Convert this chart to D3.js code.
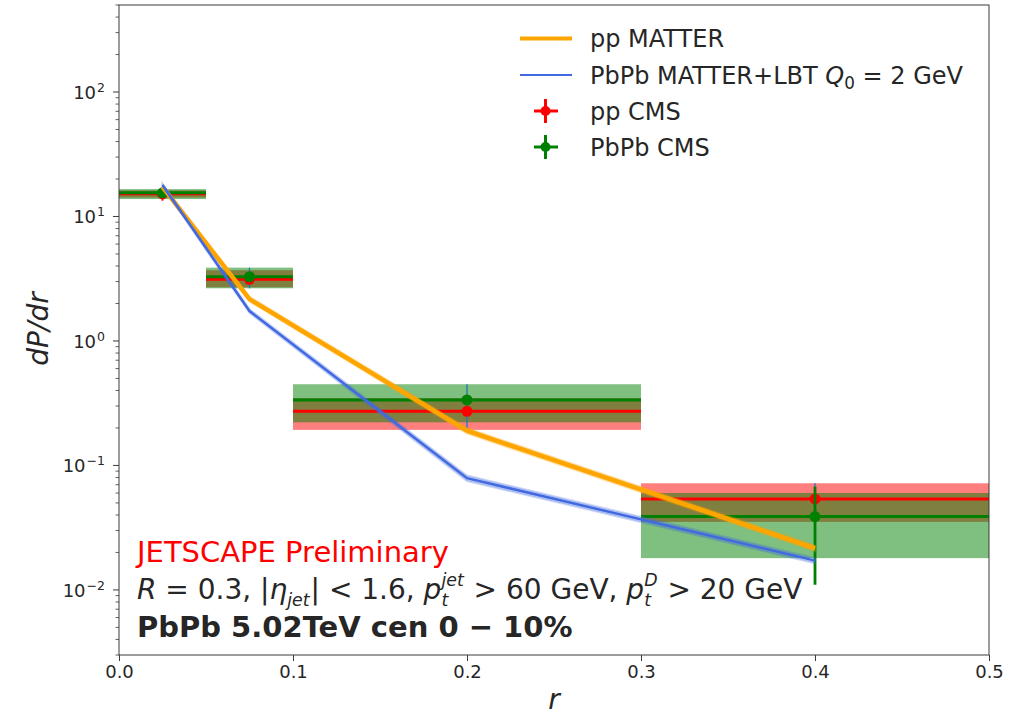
<!DOCTYPE html>
<html>
<head>
<meta charset="utf-8">
<script src="https://cdn.jsdelivr.net/npm/d3@7"></script>
<style>
  html, body { margin: 0; padding: 0; background: #fff; }
  svg { display: block; font-family: "DejaVu Sans", sans-serif; }
</style>
</head>
<body>
<svg id="chart" width="1027" height="716"></svg>
<script>
// Bin edges and centres in r
const rEdges = [0, 0.05, 0.1, 0.3, 0.5];
const rCenters = [0.025, 0.075, 0.2, 0.4];

// pp CMS: central values, statistical errors, systematic boxes
const ppCMS = [15.2, 3.13, 0.272, 0.0538];
const ppCMSStatLo = [13.4, 2.95, 0.255, 0.051];
const ppCMSStatHi = [16.4, 3.32, 0.29, 0.0565];
const ppCMSSysLo = [14.2, 2.7, 0.193, 0.0352];
const ppCMSSysHi = [16.2, 3.7, 0.348, 0.0719];

// PbPb CMS
const pbpbCMS = [15.5, 3.28, 0.336, 0.0388];
const pbpbCMSStatLo = [14.8, 3.1, 0.315, 0.011];
const pbpbCMSStatHi = [16.2, 3.45, 0.36, 0.0676];
const pbpbCMSSysLo = [13.8, 2.65, 0.222, 0.018];
const pbpbCMSSysHi = [16.6, 3.88, 0.449, 0.0601];

// JETSCAPE calculations with uncertainty bands
const ppMatter = [17.3, 2.17, 0.19, 0.0216];
const ppMatterLo = [16.7, 2.08, 0.180, 0.0205];
const ppMatterHi = [17.9, 2.27, 0.200, 0.0228];
const pbpbLbt = [17.9, 1.74, 0.079, 0.0172];
const pbpbLbtLo = [17.4, 1.68, 0.075, 0.0164];
const pbpbLbtHi = [18.4, 1.80, 0.083, 0.0180];

// Axis ticks
const xTicks = [0.0, 0.1, 0.2, 0.3, 0.4, 0.5];
const yTickExponents = [-2, -1, 0, 1, 2];

const svg = d3.select("#chart");
const W = 1027, H = 716;
const margin = { left: 119, right: 38, top: 5, bottom: 61 };
const plotW = W - margin.left - margin.right;
const plotH = H - margin.top - margin.bottom;

const x = d3.scaleLinear().domain([0, 0.5]).range([margin.left, margin.left + plotW]);
const y = d3.scaleLog().domain([0.003, 500]).range([margin.top + plotH, margin.top]);

const RED = "#ff0000", GREEN = "#008000", ORANGE = "#ffa500", BLUE = "#4169e1", EBAR = "#1f77b4";
const TXT = "#262626";

const g = svg.append("g");

// Systematic boxes
function boxes(lo, hi, color) {
  g.append("g").selectAll("rect").data(rCenters).join("rect")
    .attr("x", (d, i) => x(rEdges[i]))
    .attr("width", (d, i) => x(rEdges[i + 1]) - x(rEdges[i]))
    .attr("y", (d, i) => y(hi[i]))
    .attr("height", (d, i) => y(lo[i]) - y(hi[i]))
    .attr("fill", color).attr("fill-opacity", 0.5);
}
boxes(ppCMSSysLo, ppCMSSysHi, RED);
boxes(pbpbCMSSysLo, pbpbCMSSysHi, GREEN);

// Thin bar spanning both systematic boxes at each bin centre
g.append("g").selectAll("line").data(rCenters).join("line")
  .attr("x1", d => x(d)).attr("x2", d => x(d))
  .attr("y1", (d, i) => y(Math.max(ppCMSSysHi[i], pbpbCMSSysHi[i])))
  .attr("y2", (d, i) => y(Math.min(ppCMSSysLo[i], pbpbCMSSysLo[i])))
  .attr("stroke", EBAR).attr("stroke-width", 1.3);

// Data points with bin-width bars and statistical error bars
function points(vals, lo, hi, color, vWidth) {
  const pg = g.append("g");
  pg.selectAll("line.h").data(vals).join("line").attr("class", "h")
    .attr("x1", (d, i) => x(rEdges[i])).attr("x2", (d, i) => x(rEdges[i + 1]))
    .attr("y1", d => y(d)).attr("y2", d => y(d))
    .attr("stroke", color).attr("stroke-width", 3);
  pg.selectAll("line.v").data(vals).join("line").attr("class", "v")
    .attr("x1", (d, i) => x(rCenters[i])).attr("x2", (d, i) => x(rCenters[i]))
    .attr("y1", (d, i) => y(lo[i])).attr("y2", (d, i) => y(hi[i]))
    .attr("stroke", color).attr("stroke-width", vWidth);
  pg.selectAll("circle").data(vals).join("circle")
    .attr("cx", (d, i) => x(rCenters[i])).attr("cy", d => y(d)).attr("r", 5.5)
    .attr("fill", color);
}
points(ppCMS, ppCMSStatLo, ppCMSStatHi, RED, 2);
points(pbpbCMS, pbpbCMSStatLo, pbpbCMSStatHi, GREEN, 2.8);

// Calculation curves with bands
function curve(vals, lo, hi, color, width) {
  const area = d3.area().x((d, i) => x(rCenters[i])).y0((d, i) => y(lo[i])).y1((d, i) => y(hi[i]));
  g.append("path").datum(vals).attr("d", area).attr("fill", color).attr("fill-opacity", 0.3)
    .attr("stroke", color).attr("stroke-opacity", 0.25).attr("stroke-width", 2);
  const line = d3.line().x((d, i) => x(rCenters[i])).y(d => y(d));
  g.append("path").datum(vals).attr("d", line).attr("fill", "none")
    .attr("stroke", color).attr("stroke-width", width);
}
curve(ppMatter, ppMatterLo, ppMatterHi, ORANGE, 4.5);
curve(pbpbLbt, pbpbLbtLo, pbpbLbtHi, BLUE, 2.5);

// Frame
const AX = "#3a3a3a";
svg.append("rect").attr("x", margin.left).attr("y", margin.top)
  .attr("width", plotW).attr("height", plotH)
  .attr("fill", "none").attr("stroke", AX).attr("stroke-width", 1);

// x axis
const TS = 18;
const xAxis = svg.append("g").attr("transform", `translate(0,${margin.top + plotH})`)
  .call(d3.axisBottom(x).tickValues(xTicks).tickFormat(d3.format(".1f")).tickSize(6).tickPadding(4));
xAxis.select(".domain").remove();
xAxis.selectAll("line").attr("stroke", AX);
xAxis.selectAll("text").attr("font-size", TS).attr("fill", TXT)
  .attr("font-family", "DejaVu Sans");

// y axis: minor ticks
const minor = [];
for (let e = -3; e <= 2; e++) for (let k = 2; k <= 9; k++) {
  const v = k * Math.pow(10, e);
  if (v >= 0.003 && v <= 500) minor.push(v);
}
const yAxis = svg.append("g").attr("transform", `translate(${margin.left},0)`);
yAxis.selectAll("line.minor").data(minor).join("line").attr("class", "minor")
  .attr("x1", 0).attr("x2", -3.5).attr("y1", d => y(d)).attr("y2", d => y(d))
  .attr("stroke", AX).attr("stroke-width", 0.8);
yAxis.selectAll("line.major").data(yTickExponents).join("line").attr("class", "major")
  .attr("x1", 0).attr("x2", -6).attr("y1", d => y(Math.pow(10, d))).attr("y2", d => y(Math.pow(10, d)))
  .attr("stroke", AX).attr("stroke-width", 1);
const yl = yAxis.selectAll("text.tl").data(yTickExponents).join("text").attr("class", "tl")
  .attr("x", -14).attr("y", d => y(Math.pow(10, d)) + 7)
  .attr("text-anchor", "end").attr("font-size", TS).attr("fill", TXT);
yl.append("tspan").text("10");
yl.append("tspan").attr("dy", -7).attr("dx", 1).attr("font-size", 12.5)
  .text(d => (d < 0 ? "\u2212" : "") + Math.abs(d));

// Axis labels
svg.append("text").attr("x", x(0.25)).attr("y", 709).attr("text-anchor", "middle")
  .attr("font-size", 28).attr("font-style", "italic").attr("fill", TXT).text("r");
svg.append("text").attr("transform", `translate(48,329) rotate(-90)`)
  .attr("text-anchor", "middle").attr("font-size", 28).attr("font-style", "italic")
  .attr("fill", TXT).text("dP/dr");

// Legend
const LS = 24;
const legend = svg.append("g");
const legendRows = [
  { type: "line", color: ORANGE, width: 4, label: [{ t: "pp MATTER" }] },
  { type: "line", color: BLUE, width: 2.2, label: [{ t: "PbPb MATTER+LBT " }, { t: "Q", it: true }, { t: "0", sub: true }, { t: " = 2 GeV", up: true }] },
  { type: "pt", color: RED, label: [{ t: "pp CMS" }] },
  { type: "pt", color: GREEN, label: [{ t: "PbPb CMS" }] }
];
const rowY = [38.5, 75, 111, 147];
legendRows.forEach((row, i) => {
  const cy = rowY[i];
  if (row.type === "line") {
    legend.append("line").attr("x1", 520).attr("x2", 572).attr("y1", cy).attr("y2", cy)
      .attr("stroke", row.color).attr("stroke-width", row.width);
  } else {
    legend.append("line").attr("x1", 534).attr("x2", 558).attr("y1", cy).attr("y2", cy)
      .attr("stroke", row.color).attr("stroke-width", 3);
    legend.append("line").attr("x1", 545.5).attr("x2", 545.5).attr("y1", cy - 12).attr("y2", cy + 12)
      .attr("stroke", row.color).attr("stroke-width", 3);
    legend.append("circle").attr("cx", 545.5).attr("cy", cy).attr("r", 5).attr("fill", row.color);
  }
  const t = legend.append("text").attr("x", 590).attr("y", cy + 8.5).attr("font-size", LS).attr("fill", TXT)
    .style("white-space", "pre");
  row.label.forEach(s => {
    const ts = t.append("tspan").text(s.t);
    if (s.it) ts.attr("font-style", "italic");
    if (s.sub) ts.attr("font-size", LS * 0.7).attr("dy", 5);
    if (s.up) ts.attr("dy", -5);
  });
});

// Annotations
svg.append("text").attr("x", 137).attr("y", 562).attr("font-size", 29).attr("fill", RED)
  .text("JETSCAPE Preliminary");

// Mixed math line in one text element; stacked scripts share an x position
const measurer = svg.append("text").attr("visibility", "hidden").style("white-space", "pre");
function textWidth(str, size, italic) {
  measurer.attr("font-size", size).attr("font-style", italic ? "italic" : "normal").text(str);
  return measurer.node().getComputedTextLength();
}
function mathLine(x0, baseline, size, pieces) {
  const t = svg.append("text").attr("fill", TXT).style("white-space", "pre");
  const s = size * 0.62;
  const supY = baseline - size * 0.46, subY = baseline + size * 0.265;
  let cx = x0;
  pieces.forEach(p => {
    if (p.stack) {
      t.append("tspan").attr("x", cx).attr("y", supY).attr("font-size", s).attr("font-style", "italic").text(p.sup);
      t.append("tspan").attr("x", cx).attr("y", subY).attr("font-size", s).attr("font-style", "italic").text(p.sub);
      cx += Math.max(textWidth(p.sup, s, true), textWidth(p.sub, s, true)) + 1;
    } else if (p.sub) {
      t.append("tspan").attr("x", cx).attr("y", subY).attr("font-size", s).attr("font-style", "italic").text(p.t);
      cx += textWidth(p.t, s, true) + 1;
    } else {
      t.append("tspan").attr("x", cx).attr("y", baseline).attr("font-size", size)
        .attr("font-style", p.it ? "italic" : "normal").text(p.t);
      cx += textWidth(p.t, size, p.it);
    }
  });
}
mathLine(137, 599, 28, [
  { t: "R", it: true }, { t: " = 0.3, |" }, { t: "\u03b7", it: true }, { t: "jet", sub: true },
  { t: "| < 1.6, " }, { t: "p", it: true }, { stack: true, sup: "jet", sub: "t" },
  { t: " > 60 GeV, " }, { t: "p", it: true }, { stack: true, sup: "D", sub: "t" }, { t: " > 20 GeV" }
]);
measurer.remove();

svg.append("text").attr("x", 137).attr("y", 637).attr("font-size", 29).attr("font-weight", "bold")
  .attr("fill", TXT).style("white-space", "pre").text("PbPb 5.02TeV cen 0 \u2212 10%");
</script>
</body>
</html>
